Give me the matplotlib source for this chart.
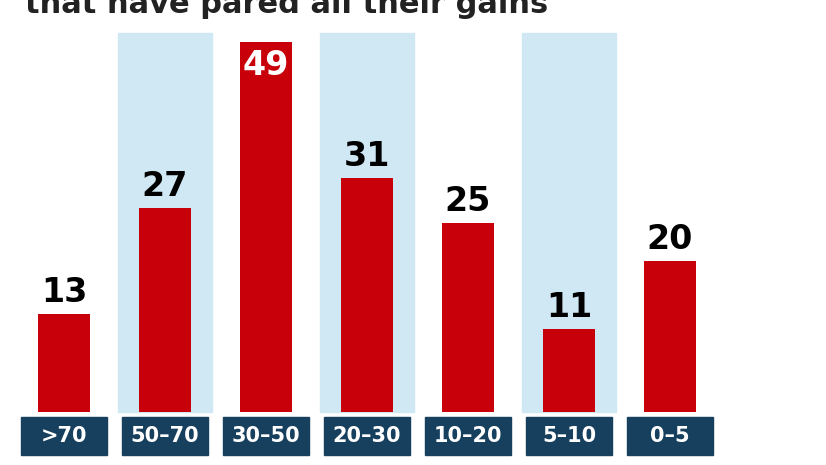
import matplotlib
matplotlib.use("Agg")
import matplotlib.pyplot as plt
from matplotlib.patches import Rectangle

# Data
categories = [">70", "50–70", "30–50", "20–30", "10–20", "5–10", "0–5"]
values = [13, 27, 49, 31, 25, 11, 20]
shaded = [1, 3, 5]
title = "that have pared all their gains"

red = "#c8000a"
band = "#cfe8f3"
navy = "#17405e"

plt.rcParams["font.family"] = ["Liberation Sans Narrow", "DejaVu Sans"]

fig = plt.figure(figsize=(8.26, 4.65), dpi=100)
ax = fig.add_axes([0, 0, 1, 1])
ax.set_xlim(-0.634, 7.545)
ax.set_ylim(-7.03, 54.5)
ax.axis("off")

for i in shaded:
    ax.add_patch(Rectangle((i - 0.47, 0), 0.94, 50.1, color=band, zorder=0))

ax.bar(range(len(values)), values, width=0.52, color=red, zorder=2)

for i, (cat, v) in enumerate(zip(categories, values)):
    if v > 45:
        ax.text(i, v - 1.0, str(v), ha="center", va="top", color="white",
                fontsize=24, fontweight="bold", zorder=3)
    else:
        ax.text(i, v + 0.6, str(v), ha="center", va="bottom", color="black",
                fontsize=24, fontweight="bold", zorder=3)
    ax.add_patch(Rectangle((i - 0.43, -5.68), 0.86, 5.0, color=navy, zorder=2))
    ax.text(i, -3.18, cat, ha="center", va="center", color="white",
            fontsize=15, fontweight="bold", zorder=3)

fig.text(0.03, 0.99, title, ha="left", va="center", fontsize=22,
         fontweight="bold", color="#222222")

fig.savefig("out.png", dpi=100)
